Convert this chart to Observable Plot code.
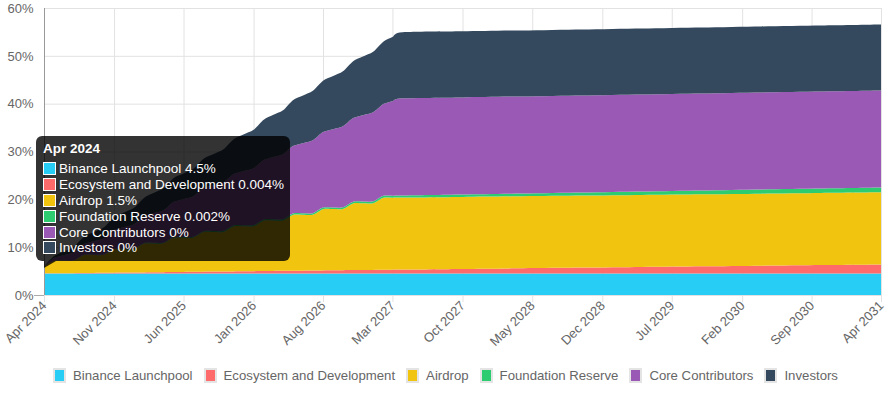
<!DOCTYPE html>
<html>
<head>
<meta charset="utf-8">
<script src="https://cdn.jsdelivr.net/npm/d3@7"></script>
<script src="https://cdn.jsdelivr.net/npm/@observablehq/plot@0.6"></script>
<style>
  html, body { margin: 0; padding: 0; background: #fff; }
  body { font-family: Arial, "Liberation Sans", Helvetica, sans-serif; }
  #wrap { position: relative; width: 891px; height: 393px; overflow: hidden; }
  #chart svg { display: block; }
  #tip { position: absolute; left: 36px; top: 136px; width: 254px; height: 125px; box-sizing: border-box;
         background: rgba(0,0,0,0.8); border-radius: 6px; color: #fff; font-size: 13.5px; padding: 5px 0 0 7px; }
  #tip .title { font-weight: bold; height: 17px; line-height: 15px; margin-bottom: 3px; }
  #tip .row { display: flex; align-items: center; height: 15.8px; white-space: nowrap; }
  #tip .sw { width: 11px; height: 11px; border: 1px solid #fff; margin-right: 3px; flex: none; }
  #caret { position: absolute; left: 44px; top: 261px; width: 0; height: 0;
           border-top: 7px solid rgba(0,0,0,0.8); border-right: 12px solid transparent; }
  #legend { position: absolute; left: 0; top: 368px; width: 891px; display: flex; justify-content: center;
            font-size: 13.2px; color: #666; }
  #legend .item { display: flex; align-items: center; margin: 0 5.5px; }
  #legend .sw { width: 9px; height: 11px; border: 2px solid #e4e4e4; margin-right: 7px; }
</style>
</head>
<body>
<div id="wrap">
  <div id="chart"></div>
  <div id="caret"></div>
  <div id="tip"></div>
  <div id="legend"></div>
</div>
<script>
// ---- data (percent of total supply unlocked, per category) ----
const seriesNames = ["Binance Launchpool", "Ecosystem and Development", "Airdrop", "Foundation Reserve", "Core Contributors", "Investors"];
const seriesColors = ["#27CDF5", "#FF6B6B", "#F1C40F", "#2ECC71", "#9B59B6", "#34495E"];

const months = [
  "2024-04","2024-05","2024-06","2024-07","2024-08","2024-09","2024-10","2024-11","2024-12",
  "2025-01","2025-02","2025-03","2025-04","2025-05","2025-06","2025-07","2025-08","2025-09","2025-10","2025-11","2025-12",
  "2026-01","2026-02","2026-03","2026-04","2026-05","2026-06","2026-07","2026-08","2026-09","2026-10","2026-11","2026-12",
  "2027-01","2027-02","2027-03","2027-04",
  "2027-10","2028-04","2028-10","2029-04","2029-10","2030-04","2030-10","2031-04"
];

const binance = [4.5,4.5,4.5,4.5,4.5,4.5,4.5,4.5,4.5, 4.5,4.5,4.5,4.5,4.5,4.5,4.5,4.5,4.5,4.5,4.5,4.5,
  4.5,4.5,4.5,4.5,4.5,4.5,4.5,4.5,4.5,4.5,4.5,4.5, 4.5,4.5,4.5,4.5, 4.5,4.5,4.5,4.5,4.5,4.5,4.5,4.5];

const ecosystem = [0.004,0.027,0.049,0.072,0.094,0.117,0.140,0.162,0.185,
  0.207,0.230,0.253,0.275,0.298,0.320,0.343,0.366,0.388,0.411,0.433,0.456,
  0.479,0.501,0.524,0.546,0.569,0.592,0.614,0.637,0.659,0.682,0.705,0.727,
  0.750,0.772,0.795,0.818,
  0.953,1.089,1.224,1.360,1.496,1.631,1.767,1.902];

const airdrop = [1.5,2.63,2.63,2.63,3.76,3.76,3.76,4.89,4.89,
  4.89,6.02,6.02,6.02,7.15,7.15,7.15,8.28,8.28,8.28,9.41,9.41,
  9.41,10.54,10.54,10.54,11.67,11.67,11.67,12.80,12.80,12.80,13.93,13.93,
  13.93,15.06,15.06,15.06,
  15.06,15.06,15.06,15.06,15.06,15.06,15.06,15.06];

const foundation = [0.002,0.014,0.026,0.038,0.050,0.062,0.073,0.085,0.097,
  0.109,0.121,0.133,0.145,0.157,0.169,0.181,0.192,0.204,0.216,0.228,0.240,
  0.252,0.264,0.276,0.288,0.300,0.311,0.323,0.335,0.347,0.359,0.371,0.383,
  0.395,0.407,0.419,0.430,
  0.502,0.573,0.645,0.716,0.787,0.859,0.930,1.002];

const core = [0,0.56,1.13,1.69,2.26,2.82,3.38,3.95,4.51,
  5.08,5.64,6.20,6.77,7.33,7.90,8.46,9.02,9.59,10.15,10.72,11.28,
  11.84,12.41,12.97,13.54,14.10,14.66,15.23,15.79,16.36,16.92,17.48,18.05,
  18.61,19.18,19.74,20.30,
  20.30,20.30,20.30,20.30,20.30,20.30,20.30,20.30];

const investors = [0,0.38,0.77,1.15,1.53,1.92,2.30,2.68,3.07,
  3.45,3.83,4.22,4.60,4.98,5.37,5.75,6.13,6.52,6.90,7.28,7.67,
  8.05,8.43,8.82,9.20,9.58,9.97,10.35,10.73,11.12,11.50,11.88,12.27,
  12.65,13.03,13.42,13.80,
  13.80,13.80,13.80,13.80,13.80,13.80,13.80,13.80];

const xTickLabels = ["2024-04","2024-11","2025-06","2026-01","2026-08","2027-03","2027-10","2028-05","2028-12","2029-07","2030-02","2030-09","2031-04"];
const yTicks = [0, 10, 20, 30, 40, 50, 60];

const tooltipTitle = "Apr 2024";
const tooltipValues = ["4.5%", "0.004%", "1.5%", "0.002%", "0%", "0%"];

// ---- build table ----
const parse = d3.utcParse("%Y-%m");
const seriesValues = [binance, ecosystem, airdrop, foundation, core, investors];
const rows = [];
seriesNames.forEach((name, si) => {
  months.forEach((m, i) => rows.push({date: parse(m), series: name, value: seriesValues[si][i]}));
});
const xTicks = xTickLabels.map(parse);
const xDomain = [parse(months[0]), parse(months[months.length - 1])];

const chart = Plot.plot({
  width: 891,
  height: 366,
  marginLeft: 44,
  marginRight: 10,
  marginTop: 8,
  marginBottom: 71,
  style: {fontFamily: "Arial, 'Liberation Sans', Helvetica, sans-serif", fontSize: "13px", color: "#666", background: "transparent", overflow: "visible"},
  x: {type: "utc", domain: xDomain},
  y: {domain: [0, 60]},
  color: {domain: seriesNames, range: seriesColors},
  marks: [
    Plot.gridY(yTicks, {stroke: "#e2e2e2", strokeOpacity: 1}),
    Plot.gridX(xTicks, {stroke: "#e2e2e2", strokeOpacity: 1}),
    Plot.areaY(rows, Plot.stackY({x: "date", y: "value", z: "series", fill: "series", order: seriesNames, curve: "cardinal", tension: 0.2})),
    Plot.axisY(yTicks, {tickSize: 0, tickPadding: 11, tickFormat: d => d + "%", fill: "#666", fontSize: 13, label: null}),
    Plot.axisY([0], {tickSize: 10, tickFormat: () => "", stroke: "#aaa", label: null}),
    Plot.axisX(xTicks, {tickSize: 7, tickPadding: 1, tickRotate: -45, tickFormat: d3.utcFormat("%b %Y"), stroke: "#e2e2e2", fill: "#666", fontSize: 13, label: null}),
    Plot.ruleX([xDomain[0]], {stroke: "#999", strokeWidth: 1})
  ]
});
document.getElementById("chart").appendChild(chart);

// ---- tooltip (HTML overlay) ----
const tip = document.getElementById("tip");
const t = document.createElement("div");
t.className = "title";
t.textContent = tooltipTitle;
tip.appendChild(t);
seriesNames.forEach((name, i) => {
  const r = document.createElement("div");
  r.className = "row";
  const sw = document.createElement("span");
  sw.className = "sw";
  sw.style.background = seriesColors[i];
  r.appendChild(sw);
  const tx = document.createElement("span");
  tx.textContent = name + " " + tooltipValues[i];
  r.appendChild(tx);
  tip.appendChild(r);
});

// ---- legend ----
const legend = document.getElementById("legend");
seriesNames.forEach((name, i) => {
  const it = document.createElement("div");
  it.className = "item";
  const sw = document.createElement("span");
  sw.className = "sw";
  sw.style.background = seriesColors[i];
  it.appendChild(sw);
  const tx = document.createElement("span");
  tx.textContent = name;
  it.appendChild(tx);
  legend.appendChild(it);
});
</script>
</body>
</html>
